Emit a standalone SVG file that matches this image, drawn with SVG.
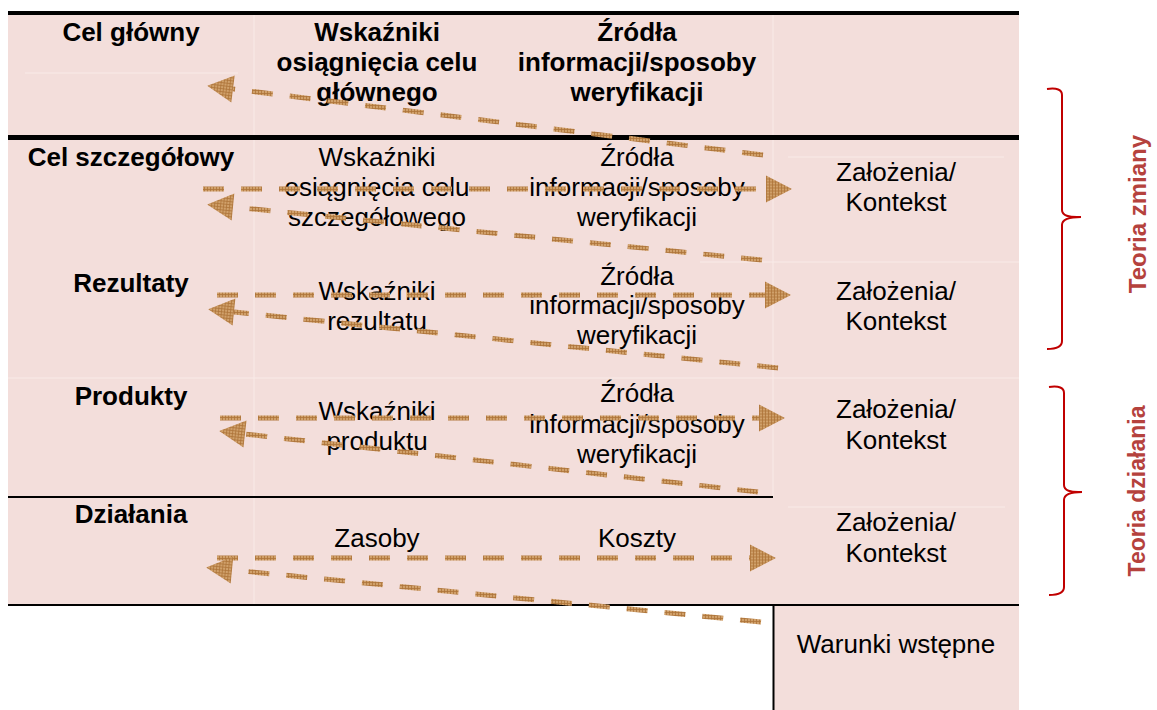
<svg xmlns="http://www.w3.org/2000/svg" width="1157" height="710" viewBox="0 0 1157 710">
<defs>
<pattern id="hatch" patternUnits="userSpaceOnUse" width="3" height="3">
<rect width="3" height="3" fill="#d0a06a"/>
<path d="M0,0.5H3M0.5,0V3" stroke="#ad7439" stroke-width="0.8"/>
</pattern>
<marker id="ah" markerUnits="userSpaceOnUse" markerWidth="30" markerHeight="30" refX="0" refY="13.5" orient="auto" overflow="visible">
<path d="M0,0 L26,13.5 L0,27 Z" fill="url(#hatch)"/>
</marker>
<style>
.t{font-family:"Liberation Sans",Arial,sans-serif;font-size:26px;fill:#000;text-anchor:middle}
.b{font-weight:bold}
.side{font-family:"Liberation Sans",Arial,sans-serif;font-weight:bold;fill:#b5423d;text-anchor:middle}
.arr{fill:none;stroke:url(#hatch);stroke-width:5;stroke-dasharray:21 17;marker-end:url(#ah)}
.faint{stroke:#f9ebe8;stroke-width:1;fill:none}
.brace{fill:none;stroke:#c00000;stroke-width:2}
</style>
</defs>
<g id="table">
<rect x="8" y="13" width="1011" height="591" fill="#f3dedb"/>
<rect x="773" y="604" width="246" height="106" fill="#f3dedb"/>
<path class="faint" d="M254,15V604M773,15V497M25,73H238M8,378H1019M788,157H1004M700,262H1019M788,507H1005"/>
<path d="M8,13H1019" stroke="#000" stroke-width="4"/>
<path d="M8,137.5H1019" stroke="#000" stroke-width="5"/>
<path d="M8,497H773" stroke="#000" stroke-width="2"/>
<path d="M8,605H1019" stroke="#000" stroke-width="2"/>
<path d="M773.5,605V710" stroke="#000" stroke-width="2"/>
</g>
<g id="header">
<text class="t b" x="131" y="41">Cel główny</text>
<text class="t b" x="377" y="41">Wskaźniki</text>
<text class="t b" x="377" y="71">osiągnięcia celu</text>
<text class="t b" x="377" y="101">głównego</text>
<text class="t b" x="637" y="41">Źródła</text>
<text class="t b" x="637" y="71">informacji/sposoby</text>
<text class="t b" x="637" y="101">weryfikacji</text>
</g>
<g id="row-cel-szczegolowy">
<text class="t b" x="131" y="166">Cel szczegółowy</text>
<text class="t" x="377" y="166">Wskaźniki</text>
<text class="t" x="377" y="196">osiągnięcia celu</text>
<text class="t" x="377" y="226">szczegółowego</text>
<text class="t" x="637" y="166">Źródła</text>
<text class="t" x="637" y="196">informacji/sposoby</text>
<text class="t" x="637" y="226">weryfikacji</text>
<text class="t" x="896" y="181">Założenia/</text>
<text class="t" x="896" y="211">Kontekst</text>
</g>
<g id="row-rezultaty">
<text class="t b" x="131" y="292">Rezultaty</text>
<text class="t" x="377" y="300">Wskaźniki</text>
<text class="t" x="377" y="330">rezultatu</text>
<text class="t" x="637" y="285">Źródła</text>
<text class="t" x="637" y="314">informacji/sposoby</text>
<text class="t" x="637" y="344">weryfikacji</text>
<text class="t" x="896" y="300">Założenia/</text>
<text class="t" x="896" y="330">Kontekst</text>
</g>
<g id="row-produkty">
<text class="t b" x="131" y="405">Produkty</text>
<text class="t" x="377" y="420">Wskaźniki</text>
<text class="t" x="377" y="450">produktu</text>
<text class="t" x="637" y="402">Źródła</text>
<text class="t" x="637" y="433">informacji/sposoby</text>
<text class="t" x="637" y="463">weryfikacji</text>
<text class="t" x="896" y="418">Założenia/</text>
<text class="t" x="896" y="449">Kontekst</text>
</g>
<g id="row-dzialania">
<text class="t b" x="131" y="523">Działania</text>
<text class="t" x="377" y="547">Zasoby</text>
<text class="t" x="637" y="547">Koszty</text>
<text class="t" x="896" y="531">Założenia/</text>
<text class="t" x="896" y="562">Kontekst</text>
</g>
<g id="warunki">
<text class="t" x="896" y="653">Warunki wstępne</text>
</g>
<g id="connectors">
<path class="arr" d="M763,155 L233,89"/>
<path class="arr" d="M203,189 L766,189"/>
<path class="arr" d="M762,260 L233,207"/>
<path class="arr" d="M217,295 L765,295"/>
<path class="arr" d="M778,368 L234,312"/>
<path class="arr" d="M220,418 L759,418"/>
<path class="arr" d="M758,492 L245,434"/>
<path class="arr" d="M217,558 L750,558"/>
<path class="arr" d="M761,622 L232,570"/>
</g>
<g id="teoria-zmiany">
<path class="brace" d="M1047,89 Q1062,87 1062,95 V210 Q1062,218 1081,217 Q1062,217 1062,225 V341 Q1062,349 1047,349"/>
<text class="side" font-size="24" transform="translate(1146,214) rotate(-90)">Teoria zmiany</text>
</g>
<g id="teoria-dzialania">
<path class="brace" d="M1049,387 Q1064,385 1064,393 V485 Q1064,493 1082,492 Q1064,492 1064,500 V587 Q1064,595 1049,595"/>
<text class="side" font-size="23" transform="translate(1145,491) rotate(-90)">Teoria działania</text>
</g>
</svg>
